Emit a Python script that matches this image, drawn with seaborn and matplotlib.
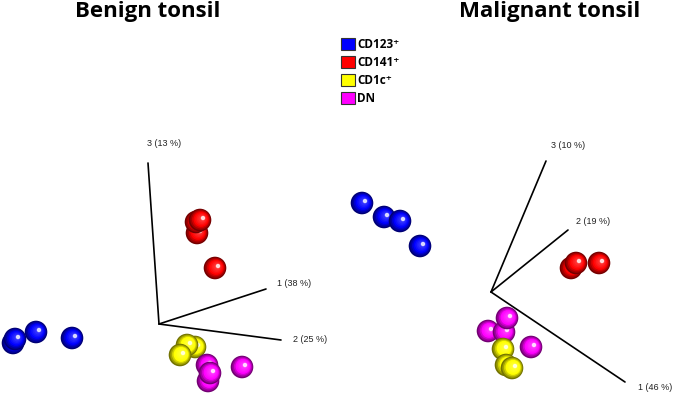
import numpy as np
import pandas as pd
import seaborn as sns
import matplotlib.pyplot as plt
from matplotlib.colors import to_rgb
from matplotlib.patches import Patch

# values (projected positions, pixel units)
groups = ['CD123', 'CD141', 'CD1c', 'DN']
legend_labels = ['CD123\u207a', 'CD141\u207a', 'CD1c\u207a', 'DN']
colors = {'CD123': '#0000ff', 'CD141': '#ff0000', 'CD1c': '#ffff00', 'DN': '#ff00ff'}

benign_x = [13, 15, 36, 72, 197, 196, 200, 215, 195, 187, 180, 208, 207, 210, 242]
benign_y = [343, 339, 332, 338, 233, 222, 220, 268, 347, 345, 355, 381, 365, 373, 367]
benign_grp = ['CD123', 'CD123', 'CD123', 'CD123', 'CD141', 'CD141', 'CD141', 'CD141',
              'CD1c', 'CD1c', 'CD1c', 'DN', 'DN', 'DN', 'DN']

malig_x = [362, 384, 400, 420, 571, 576, 599, 488, 504, 507, 531, 503, 506, 512]
malig_y = [203, 217, 221, 246, 268, 263, 263, 331, 332, 318, 347, 349, 365, 368]
malig_grp = ['CD123', 'CD123', 'CD123', 'CD123', 'CD141', 'CD141', 'CD141',
             'DN', 'DN', 'DN', 'DN', 'CD1c', 'CD1c', 'CD1c']

# PCA axes: origin and end points, with labels
benign_origin = (159, 324)
benign_axes_end = [(266, 289), (281, 340), (148, 163)]
benign_axes_lab = ['1 (38 %)', '2 (25 %)', '3 (13 %)']
benign_lab_pos = [(277, 283), (293, 340), (147, 144)]

malig_origin = (491, 292)
malig_axes_end = [(625, 382), (568, 230), (546, 161)]
malig_axes_lab = ['1 (46 %)', '2 (19 %)', '3 (10 %)']
malig_lab_pos = [(638, 388), (576, 221), (551, 145)]

titles = ['Benign tonsil', 'Malignant tonsil']
title_pos = [(148, 12), (550, 12)]

sns.set_style('white')
fig = plt.figure(figsize=(6.75, 3.96), dpi=100)
ax = fig.add_axes([0, 0, 1, 1])
ax.set_xlim(0, 675)
ax.set_ylim(396, 0)
ax.axis('off')


def draw_ball(x, y, c, size=265):
    base = np.array(to_rgb(c))
    n = 9
    for k in range(n):
        f = 1 - k / n
        s = size * f ** 2
        off = (1 - f) * 3.2
        if k < 3:
            col = base * (0.45 + 0.18 * k)
        else:
            t = (k - 3) / (n - 3)
            col = base + (1 - base) * 0.35 * t
        col = np.clip(col, 0, 1)
        d = pd.DataFrame({'x': [x + off], 'y': [y - off * 0.6]})
        sns.scatterplot(data=d, x='x', y='y', s=s, color=col, edgecolor='none',
                        linewidth=0, ax=ax, legend=False)
    d = pd.DataFrame({'x': [x + 3.0], 'y': [y - 2.0]})
    sns.scatterplot(data=d, x='x', y='y', s=10, color='white', alpha=0.8,
                    edgecolor='none', linewidth=0, ax=ax, legend=False)


def draw_panel(px, py, pg, origin, ends, labs, lpos):
    for (ex, ey), lab, (lx, ly) in zip(ends, labs, lpos):
        ax.plot([origin[0], ex], [origin[1], ey], color='black', lw=1.2)
        ax.text(lx, ly, lab, fontsize=6.5, family='Liberation Sans',
                ha='left', va='center', color='#222222')
    for x, y, g in zip(px, py, pg):
        draw_ball(x, y, colors[g])


draw_panel(benign_x, benign_y, benign_grp, benign_origin, benign_axes_end,
           benign_axes_lab, benign_lab_pos)
draw_panel(malig_x, malig_y, malig_grp, malig_origin, malig_axes_end,
           malig_axes_lab, malig_lab_pos)

for t, (tx, ty) in zip(titles, title_pos):
    ax.text(tx, ty, t, fontsize=16, fontweight='bold', family=['Open Sans', 'DejaVu Sans'],
            ha='center', va='center', color='black')

handles = [Patch(facecolor=colors[g], edgecolor='#333333', linewidth=0.8) for g in groups]
leg = ax.legend(handles, legend_labels, loc='upper left', bbox_to_anchor=(341, 38),
                bbox_transform=ax.transData, frameon=False, borderpad=0,
                borderaxespad=0, handlelength=1.15, handleheight=1.15,
                handletextpad=0.2, labelspacing=0.42, labelcolor='black',
                prop={'family': ['Open Sans', 'DejaVu Sans'], 'weight': 'bold', 'size': 8.5})

fig.savefig('out.png', dpi=100)
